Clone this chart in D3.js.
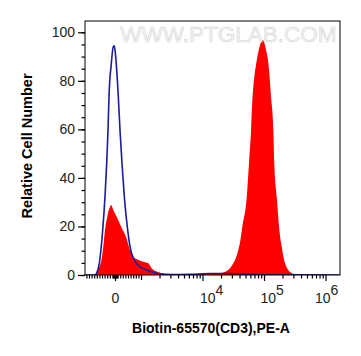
<!DOCTYPE html>
<html><head><meta charset="utf-8">
<script src="https://cdn.jsdelivr.net/npm/d3@7"></script>
<style>html,body{margin:0;padding:0;background:#fff;} svg{display:block;}</style>
</head><body><svg id="c" width="361" height="356"></svg>
<script>
// ---- data ----
const yTickValues = [0, 20, 40, 60, 80, 100];
const xTickValues = [0, 1e4, 1e5, 1e6];
const xTickBase = ["0", "10", "10", "10"];
const xTickExp = ["", "4", "5", "6"];
const xAxisTitle = "Biotin-65570(CD3),PE-A";
const yAxisTitle = "Relative Cell Number";
const watermark = "WWW.PTGLAB.COM";

// control (blue outline) histogram: intensity, relative count
const blueX = [-1150, -769, -704, -604, -473, -385, -319, -269, -231, -192, -165, -65, -27, 27, 127, 192, 269, 358, 488, 577, 742, 962, 1238, 1800, 3310, 6260, 13200, 28000, 59000, 125000, 385000, 1700000];
const blueY = [0, 0, 0.8, 4.8, 18.5, 32.3, 46.0, 59.7, 73.5, 81.7, 84.5, 94.1, 94.4, 89.9, 73.5, 59.7, 46.0, 32.3, 18.5, 11.7, 6.2, 3.4, 2.1, 0.7, 0.2, 0.3, 0.6, 0.6, 0.3, 0.2, 0.1, 0];

// CD3 stained (red filled) histogram
const redX = [-1150, -835, -550, -450, -385, -296, -192, -154, -65, 65, 296, 423, 577, 704, 896, 1090, 1314, 1493, 1800, 2620, 4310, 8050, 11700, 19200, 28000, 31600, 33800, 38200, 40800, 44400, 52500, 57000, 61600, 64600, 67500, 73000, 82800, 95400, 108000, 117800, 130000, 141800, 147000, 160900, 177600, 194000, 219700, 281600, 340000, 1700000];
const redY = [0, 0, 4.8, 11.7, 18.5, 24.0, 28.1, 28.8, 26.8, 24.0, 18.5, 15.8, 10.3, 7.5, 6.2, 5.5, 4.8, 2.8, 1.4, 0.4, 0.3, 0.4, 0.3, 0.7, 2.8, 4.8, 6.2, 10.3, 13.5, 19.9, 32.3, 46.0, 59.7, 72.0, 78.5, 85.5, 93.0, 96.8, 92.7, 87.2, 73.5, 59.7, 46.0, 32.3, 18.5, 11.7, 4.8, 0.7, 0, 0];

// ---- scales ----
const LIN = 1000, LINW = 26 / 61.5;
function tf(v) { return v <= LIN ? v / LIN * LINW : LINW + Math.log10(v / LIN); }
const xs = d3.scaleLinear().domain([tf(-1154), tf(1.72e6)]).range([85, 340]);
const x = v => xs(tf(v));
const y = d3.scaleLinear().domain([0, 104.65]).range([275, 21]);

const svg = d3.select("#c");
const font = "'Liberation Sans', Arial, sans-serif";

svg.append("defs").append("clipPath").attr("id", "clip")
  .append("rect").attr("x", 85).attr("y", 21).attr("width", 255).attr("height", 254);

const plot = svg.append("g").attr("clip-path", "url(#clip)");

const redData = redX.map((v, i) => ({v, c: redY[i]}));
const blueData = blueX.map((v, i) => ({v, c: blueY[i]}));

plot.append("path").datum(redData)
  .attr("fill", "#ff0000")
  .attr("d", d3.area().x(d => x(d.v)).y0(y(0)).y1(d => y(d.c)).curve(d3.curveMonotoneX));

plot.append("path").datum(blueData)
  .attr("fill", "none").attr("stroke", "#1c1c9c").attr("stroke-width", 1.6)
  .attr("d", d3.line().x(d => x(d.v)).y(d => y(d.c)).curve(d3.curveMonotoneX));

// watermark
svg.append("text").attr("x", 336.5).attr("y", 41.7).attr("text-anchor", "end")
  .attr("font-family", font).attr("font-size", 22.5)
  .attr("fill", "#f6f6f6").attr("stroke", "#cfcfcf").attr("stroke-width", 0.6)
  .attr("opacity", 0.9)
  .text(watermark);

// frame
svg.append("rect").attr("x", 85).attr("y", 21).attr("width", 255).attr("height", 254)
  .attr("fill", "none").attr("stroke", "#000").attr("stroke-width", 1);

// y axis
const yMinor = d3.range(0, 101, 5);
const gyMinor = svg.append("g").attr("transform", "translate(85,0)")
  .call(d3.axisLeft(y).tickValues(yMinor).tickSize(3.5).tickFormat(""));
const gy = svg.append("g").attr("transform", "translate(85,0)")
  .call(d3.axisLeft(y).tickValues(yTickValues).tickSize(7).tickPadding(3).tickFormat(d3.format("d")));
[gyMinor, gy].forEach(g => { g.select(".domain").remove(); g.selectAll("line").attr("stroke", "#000").attr("stroke-width", 1.2); });
gy.selectAll("text").attr("font-family", font).attr("font-size", 14).attr("fill", "#222");

// x axis
const xMinor = [].concat(
  d3.range(-1100, 0, 100), [-75, -50, -25, 25, 50, 75],
  d3.range(100, 1000, 100),
  d3.range(2e3, 1e4, 1e3), d3.range(2e4, 1e5, 1e4), d3.range(2e5, 1e6, 1e5)
);
const gxMinor = svg.append("g").attr("transform", "translate(0,275)")
  .call(d3.axisBottom(xs).tickValues(xMinor.map(tf)).tickSize(3.5).tickFormat(""));
const gxMid = svg.append("g").attr("transform", "translate(0,275)")
  .call(d3.axisBottom(xs).tickValues([tf(1e3)]).tickSize(5).tickFormat(""));
const gx = svg.append("g").attr("transform", "translate(0,275)")
  .call(d3.axisBottom(xs).tickValues(xTickValues.map(tf)).tickSize(6).tickFormat(""));
[gxMinor, gxMid, gx].forEach(g => { g.select(".domain").remove(); g.selectAll("line").attr("stroke", "#000").attr("stroke-width", 1.2); });

const labelDx = [0, -2.5, -3.5, -10.5];
xTickValues.forEach((v, i) => {
  const t = svg.append("text").attr("font-family", font).attr("font-size", 14).attr("fill", "#222")
    .attr("y", 302.5);
  if (xTickExp[i] === "") {
    t.attr("x", x(v) + 0.5).attr("text-anchor", "middle").text(xTickBase[i]);
  } else {
    t.attr("x", x(v) + labelDx[i]).attr("text-anchor", "start");
    t.append("tspan").text(xTickBase[i]);
    t.append("tspan").attr("dy", -8).text(xTickExp[i]);
  }
});

// axis titles
svg.append("text").attr("x", 211).attr("y", 332.7).attr("text-anchor", "middle")
  .attr("font-family", font).attr("font-weight", "bold").attr("font-size", 14).attr("fill", "#000")
  .text(xAxisTitle);
svg.append("text").attr("transform", "translate(32,146) rotate(-90)").attr("text-anchor", "middle")
  .attr("font-family", font).attr("font-weight", "bold").attr("font-size", 14.5).attr("fill", "#000")
  .text(yAxisTitle);
</script>
</body></html>
